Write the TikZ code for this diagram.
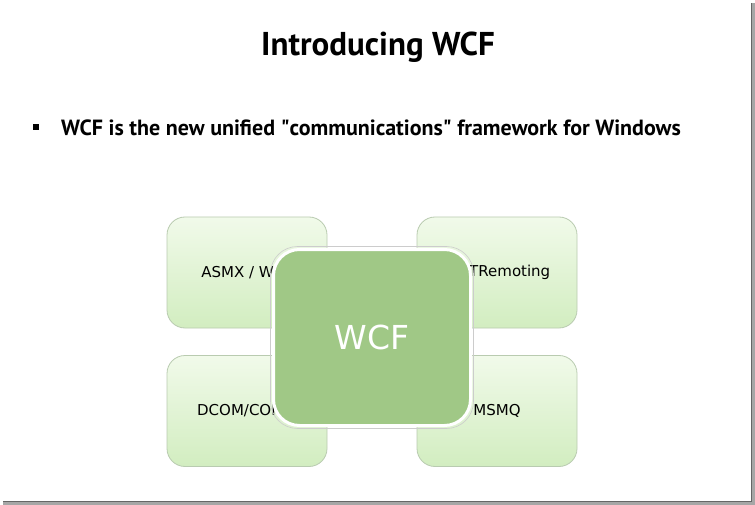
\documentclass[tikz,border=0pt]{standalone}
\usepackage{fontspec}
\setmainfont{PT Sans}
\newfontfamily\boxfont{DejaVu Sans}
\usetikzlibrary{positioning}

\definecolor{boxtop}{HTML}{F1FAEA}
\definecolor{boxbot}{HTML}{D2EDC0}
\definecolor{boxline}{HTML}{B9CBB0}
\definecolor{wcfgreen}{HTML}{A0C886}

\begin{document}
\begin{tikzpicture}[x=1pt, y=-1pt,
          techbox/.style={rounded corners=18pt, draw=boxline, line width=0.8pt,
            top color=boxtop, bottom color=boxbot,
            minimum width=160pt, minimum height=111pt,
            font=\boxfont\fontsize{15}{17}\selectfont},
          corebox/.style={rounded corners=26pt, draw=white, line width=3pt,
            fill=wcfgreen, minimum width=197pt, minimum height=176pt,
            text=white, font=\boxfont\fontsize{33}{38}\selectfont},
        ]
          % slide frame with shadow
          \fill[black!35] (3,3) rectangle (755,505);
          \fill[black!60] (3,3) rectangle (752,502);
          \fill[white] (0,0) rectangle (751,501);
          \useasboundingbox (0,0) rectangle (755,505);

          \node[font=\bfseries\fontsize{33}{38}\selectfont] (title) at (378,47) {Introducing WCF};
          \node[fill=black, inner sep=0pt, minimum size=6pt] (bullet) at (35.5,127) {};
          \node[anchor=west, inner sep=0pt, font=\bfseries\fontsize{22}{26}\selectfont]
            (point) at (61,128) {WCF is the new unified \textquotedbl communications\textquotedbl\ framework for Windows};

          \node[techbox] (asmx)     at (247,272.5) {ASMX / WSE};
          \node[techbox] (remoting) at (497,272.5) {.NETRemoting};
          \node[techbox] (dcom)     at (247,411)   {DCOM/COM+};
          \node[techbox] (msmq)     at (497,411)   {MSMQ};

          \draw[black!20, line width=0.6pt, rounded corners=27pt] (270.5,246.5) rectangle (473.5,428.5);
          \node[corebox] (wcf) at (372,337.5) {WCF};
        \end{tikzpicture}
\end{document}
